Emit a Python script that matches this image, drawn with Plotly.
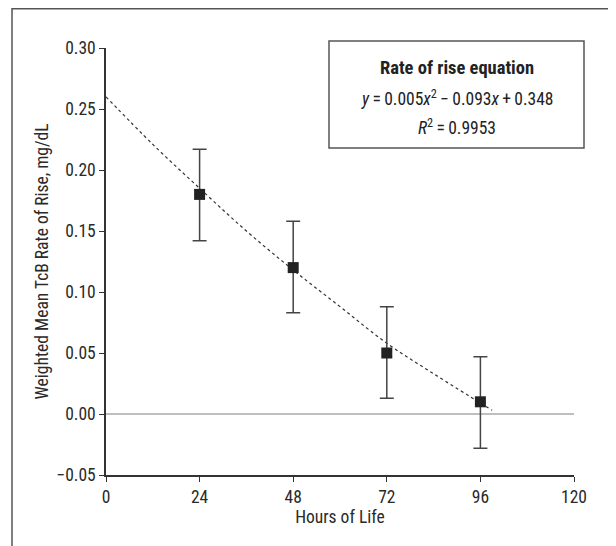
import plotly.graph_objects as go

hours = [24, 48, 72, 96]
rate = [0.180, 0.120, 0.050, 0.010]
err_hi = [0.037, 0.038, 0.038, 0.037]
err_lo = [0.038, 0.037, 0.037, 0.038]

fit_hours = [0, 12, 24, 36, 48, 60, 72, 84, 96, 99]
fit_rate = [0.260, 0.221, 0.185, 0.150, 0.118, 0.088, 0.058, 0.033, 0.009, 0.003]

x_ticks = [0, 24, 48, 72, 96, 120]
y_ticks = [-0.05, 0.00, 0.05, 0.10, 0.15, 0.20, 0.25, 0.30]
y_labels = ["\u22120.05", "0.00", "0.05", "0.10", "0.15", "0.20", "0.25", "0.30"]

FONT = "Roboto Condensed, Liberation Sans Narrow, Arial Narrow, sans-serif"
OFF = 8  # page body margin
W, H = 616 - OFF, 546 - OFF
L, R, T, B = 106 - OFF, 42, 48 - OFF, 71
pw, ph = W - L - R, H - T - B

def px(x):
    return (x - OFF - L) / pw

def py(y):
    return 1 - (y - OFF - T) / ph

fig = go.Figure()

fig.add_trace(go.Scatter(x=[0, 120], y=[0, 0], mode="lines",
                         line=dict(color="#aaaaaa", width=1.5),
                         hoverinfo="skip", showlegend=False))

fig.add_trace(go.Scatter(x=fit_hours, y=fit_rate, mode="lines",
                         line=dict(color="#333333", width=1.2, dash="3px,3px", shape="spline"),
                         showlegend=False))

fig.add_trace(go.Scatter(
    x=hours, y=rate, mode="markers",
    marker=dict(symbol="square", size=11, color="#222222"),
    error_y=dict(type="data", symmetric=False, array=err_hi, arrayminus=err_lo,
                 color="#444444", thickness=1.5, width=7),
    showlegend=False))

fig.update_xaxes(range=[0, 120], tickvals=x_ticks, ticktext=[str(v) for v in x_ticks],
                 showgrid=False, zeroline=False, showline=True, linecolor="#333333",
                 linewidth=1.5, ticks="outside", ticklen=5, tickcolor="#333333",
                 tickwidth=1.2,
                 title=dict(text="Hours of Life", standoff=4,
                            font=dict(family=FONT, size=17.5, color="#2a2a2a")),
                 tickfont=dict(family=FONT, size=17.5, color="#2a2a2a"))
fig.update_yaxes(range=[-0.05, 0.30], tickvals=y_ticks, ticktext=y_labels,
                 showgrid=False, zeroline=False, showline=True, linecolor="#333333",
                 linewidth=1.5, ticks="outside", ticklen=5, tickcolor="#333333",
                 tickwidth=1.2,
                 title=dict(text="Weighted Mean TcB Rate of Rise, mg/dL", standoff=3,
                            font=dict(family=FONT, size=17.5, color="#2a2a2a")),
                 tickfont=dict(family=FONT, size=17.5, color="#2a2a2a"))

shapes = [
    dict(type="rect", xref="paper", yref="paper",
         x0=px(12), x1=px(660), y0=py(8.75), y1=py(600),
         line=dict(color="#555555", width=1.5), fillcolor="rgba(0,0,0,0)"),
    dict(type="rect", xref="paper", yref="paper",
         x0=px(329), x1=px(584), y0=py(41), y1=py(148),
         line=dict(color="#555555", width=1.5), fillcolor="white"),
]

cx = px(456.5)
annotations = [
    dict(text="<b>Rate of rise equation</b>", x=cx, y=py(68), xref="paper", yref="paper",
         xanchor="center", yanchor="middle",
         showarrow=False, font=dict(family=FONT, size=18.5, color="#222222")),
    dict(text="<i>y</i>\u2009=\u20090.005<i>x</i><sup>2</sup>\u2009\u2212\u20090.093<i>x</i>\u2009+\u20090.348",
         x=cx, y=py(98), xref="paper", yref="paper", xanchor="center", yanchor="middle",
         showarrow=False, font=dict(family=FONT, size=17.5, color="#222222")),
    dict(text="<i>R</i><sup>2</sup>\u2009=\u20090.9953", x=cx, y=py(127), xref="paper", yref="paper",
         xanchor="center", yanchor="middle",
         showarrow=False, font=dict(family=FONT, size=17.5, color="#222222")),
]

fig.update_layout(width=W, height=H, margin=dict(l=L, r=R, t=T, b=B),
                  paper_bgcolor="white", plot_bgcolor="white",
                  shapes=shapes, annotations=annotations,
                  font=dict(family=FONT, color="#333333"))

fig.write_html("out.html")
